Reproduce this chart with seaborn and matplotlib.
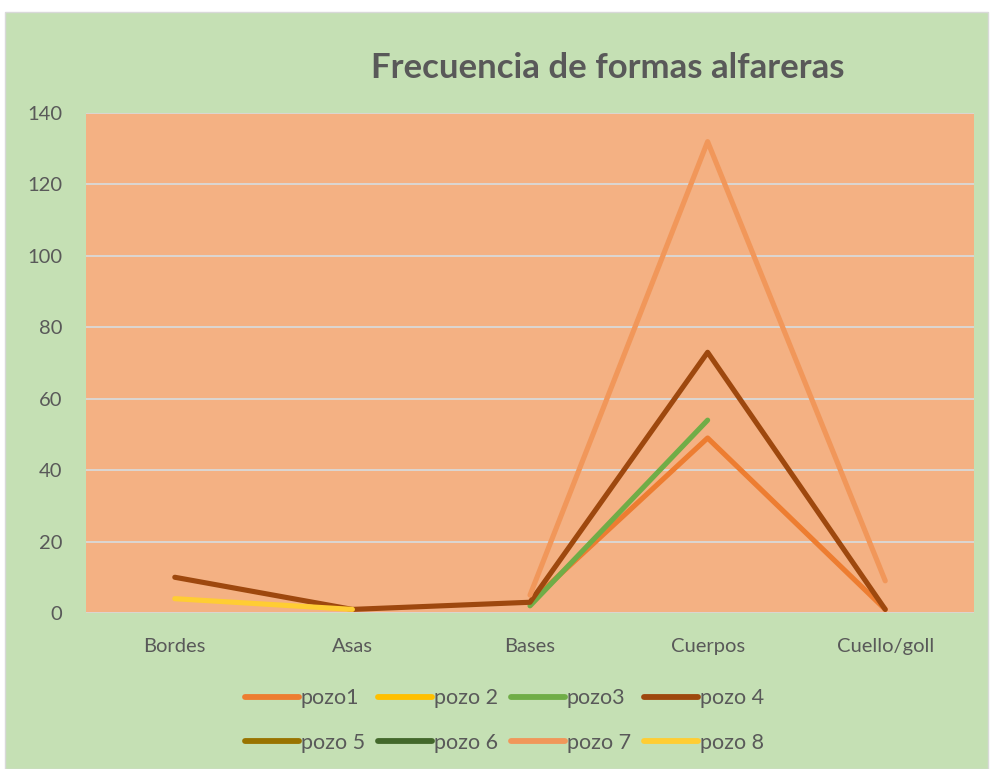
import numpy as np
import pandas as pd
import seaborn as sns
import matplotlib.pyplot as plt
from matplotlib.lines import Line2D
from matplotlib.patches import Rectangle

categorias = ['Bordes', 'Asas', 'Bases', 'Cuerpos', 'Cuello/goll']
series = ['pozo1', 'pozo 2', 'pozo3', 'pozo 4', 'pozo 5', 'pozo 6', 'pozo 7', 'pozo 8']

pozo1 = [np.nan, np.nan, 3, 49, 1]
pozo2 = [np.nan, np.nan, np.nan, np.nan, np.nan]
pozo3 = [np.nan, np.nan, 2, 54, np.nan]
pozo4 = [10, 1, 3, 73, 1]
pozo5 = [np.nan, np.nan, np.nan, np.nan, np.nan]
pozo6 = [np.nan, np.nan, np.nan, np.nan, np.nan]
pozo7 = [np.nan, np.nan, 5, 132, 9]
pozo8 = [4, 1, np.nan, np.nan, np.nan]

colores = ['#ED7D31', '#FFC000', '#70AD47', '#9E480E',
           '#997300', '#43682B', '#F1975A', '#FFCD33']

valores = [pozo1, pozo2, pozo3, pozo4, pozo5, pozo6, pozo7, pozo8]
filas = []
for nombre, vals in zip(series, valores):
    for i, v in enumerate(vals):
        filas.append({'pos': i, 'valor': v, 'serie': nombre})
data = pd.DataFrame(filas).dropna()

sns.set_style('white')
plt.rcParams['font.family'] = ['Lato', 'DejaVu Sans']

gris = '#595959'
fig = plt.figure(figsize=(9.93, 7.69), dpi=100)
fig.patch.set_facecolor('white')
fig.patches.append(Rectangle((0.005, 0.0), 0.99, 0.984, transform=fig.transFigure,
                             facecolor='#C5E0B4', edgecolor='#D9D9D9', lw=1, zorder=-1))

ax = fig.add_axes([0.0866, 0.2029, 0.8943, 0.6501])
ax.set_facecolor('#F4B183')

paleta = dict(zip(series, colores))
for nombre in series:
    sub = data[data['serie'] == nombre]
    if len(sub) == 0:
        continue
    sns.lineplot(data=sub, x='pos', y='valor', color=paleta[nombre], lw=3.7,
                 ax=ax, legend=False, solid_capstyle='round', solid_joinstyle='round')

ax.set_xlim(-0.5, 4.5)
ax.set_ylim(0, 140)
ax.set_yticks(range(0, 141, 20))
ax.set_xticks(range(len(categorias)), categorias)
ax.yaxis.grid(True, color='#D9D9D9', lw=1.3)
ax.set_axisbelow(True)
ax.set_xlabel('')
ax.set_ylabel('')
ax.tick_params(axis='both', length=0, labelsize=14.5, labelcolor=gris)
ax.tick_params(axis='x', pad=18)
ax.tick_params(axis='y', pad=17)
for s in ax.spines.values():
    s.set_visible(False)

fig.text(0.612, 0.912, 'Frecuencia de formas alfareras', ha='center', va='center',
         fontsize=25, fontweight='bold', color=gris)

handles = [Line2D([0], [0], color=c, lw=4.2, solid_capstyle='round') for c in colores]
orden = [0, 4, 1, 5, 2, 6, 3, 7]
leg = fig.legend([handles[i] for i in orden], [series[i] for i in orden],
                 loc='center', bbox_to_anchor=(0.508, 0.063), ncol=4, frameon=False,
                 fontsize=15.5, handlelength=2.5, handletextpad=0.1, columnspacing=0.6,
                 labelspacing=1.15)
for t in leg.get_texts():
    t.set_color(gris)

plt.savefig('out.png', dpi=100)
